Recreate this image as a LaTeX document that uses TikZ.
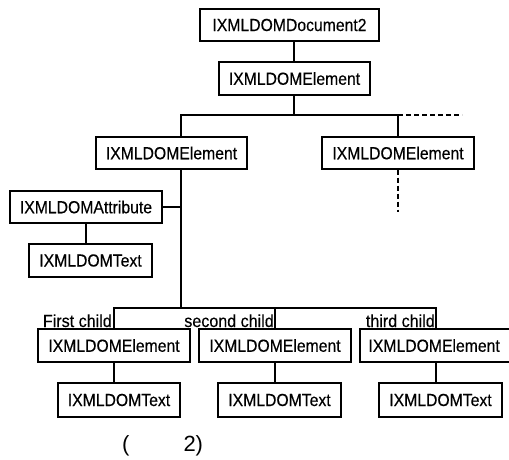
\documentclass[tikz,border=0pt]{standalone}
\usepackage{fontspec}
\setmainfont{Liberation Sans}
\newfontfamily\boxfont[FakeStretch=0.9,FakeBold=0.3]{Liberation Sans}
\newfontfamily\lblfont[FakeStretch=0.92,FakeBold=0.15]{Liberation Sans}
\begin{document}
\begin{tikzpicture}[x=1pt,y=-1pt,
  box/.style={draw,line width=1.1pt,rectangle,inner sep=0pt,minimum height=32pt,font=\boxfont\fontsize{17.5}{19}\selectfont},
  lbl/.style={inner sep=0pt,font=\lblfont\fontsize{17.5}{19}\selectfont},
  ln/.style={line width=1.1pt},
  dl/.style={line width=1.1pt,dashed,dash pattern=on 5pt off 3pt}]
\useasboundingbox (0,0) rectangle (509,460);
\node[box,minimum width=179pt] (doc) at (289.5,25) {IXMLDOMDocument2};
\node[box,minimum width=151pt,minimum height=33pt] (e0) at (294.5,78.5) {IXMLDOMElement};
\node[box,minimum width=151pt] (eL) at (171.5,153) {IXMLDOMElement};
\node[box,minimum width=152pt] (eR) at (398,153) {IXMLDOMElement};
\node[box,minimum width=152pt] (attr) at (86,207) {IXMLDOMAttribute};
\node[box,minimum width=123pt,minimum height=33pt] (tA) at (90.5,260.5) {IXMLDOMText};
\node[box,minimum width=152pt,minimum height=33pt] (c1) at (114,345.5) {IXMLDOMElement};
\node[box,minimum width=152pt,minimum height=33pt] (c2) at (275,345.5) {IXMLDOMElement};
\node[box,minimum width=158pt,minimum height=33pt,text width=145pt,align=left] (c3) at (439,345.5) {\hspace*{2pt}IXMLDOMElement};
\node[box,minimum width=122pt,minimum height=34pt] (t1) at (119,400) {IXMLDOMText};
\node[box,minimum width=123pt,minimum height=34pt] (t2) at (279.5,400) {IXMLDOMText};
\node[box,minimum width=123pt,minimum height=34pt] (t3) at (440.5,400) {IXMLDOMText};
% labels
\node[lbl,anchor=base east] (l1) at (112,327) {First child};
\node[lbl,anchor=base east] (l2) at (274,327) {second child};
\node[lbl,anchor=base east] (l3) at (435,327) {third child};
\node[inner sep=0pt,font=\fontsize{22}{24}\selectfont,anchor=west] (cap) at (122,446) {(\hspace{54pt}2)};
% coordinates
\coordinate (b0) at (181,115);
\coordinate (b1) at (398,115);
\coordinate (b2) at (462,115);
\coordinate (bus0) at (114,308);
\coordinate (bus1) at (436,308);
\coordinate (d1) at (398,212);
% connectors
\draw[ln] (doc.south -| 294,0) -- (e0.north -| 294,0);
\draw[ln] (e0.south -| 294,0) -- (294,115);
\draw[ln] (eL.north -| b0) -- (b0) -- (b1) -- (eR.north);
\draw[dl] (b1) -- (b2);
\draw[dl] (eR.south) -- (d1);
\draw[ln] (eL.south -| b0) -- (b0 |- bus0);
\draw[ln] (attr.east) -- (attr.east -| b0);
\draw[ln] (attr.south) -- (attr.south |- tA.north);
\draw[ln] (c1.north) -- (bus0) -- (bus1) -- (c3.north -| bus1);
\draw[ln] (275,308) -- (c2.north);
\draw[ln] (c1.south) -- (c1.south |- t1.north);
\draw[ln] (c2.south) -- (c2.south |- t2.north);
\draw[ln] (c3.south -| bus1) -- (t3.north -| bus1);
\end{tikzpicture}
\end{document}
